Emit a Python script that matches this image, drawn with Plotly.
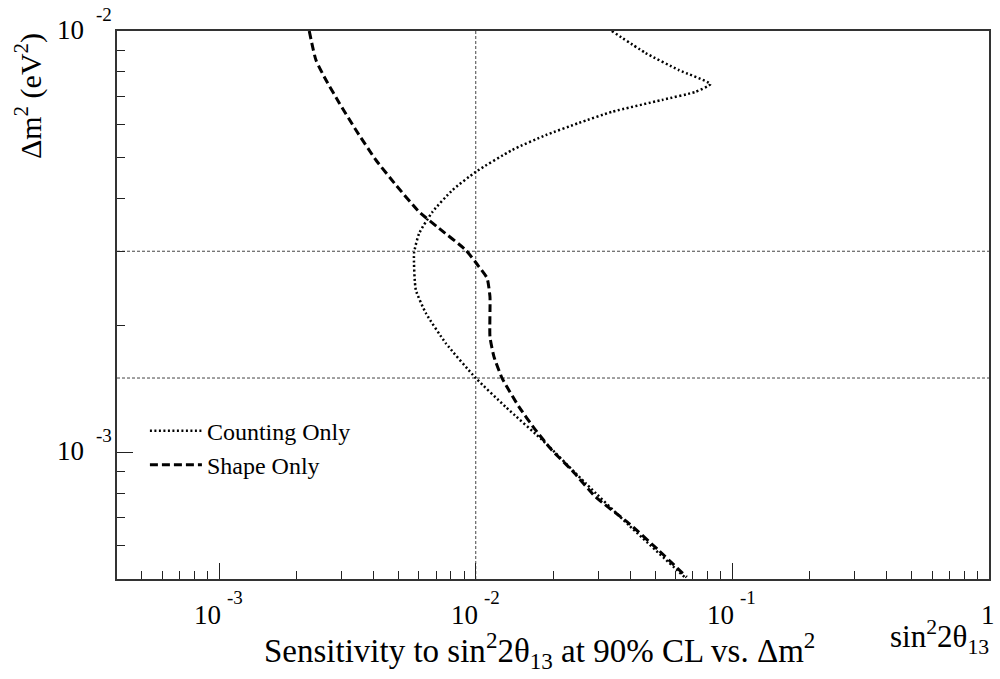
import math
import plotly.graph_objects as go

# ---- data ----
shape_x = [2.245e-3, 2.384e-3, 2.608e-3, 2.938e-3, 3.412e-3, 4.082e-3, 4.885e-3, 6.016e-3,
           7.197e-3, 9.14e-3, 1.030e-2, 1.107e-2, 1.136e-2, 1.136e-2, 1.178e-2, 1.266e-2,
           1.474e-2, 1.712e-2, 1.981e-2, 2.369e-2, 2.930e-2, 3.948e-2, 5.16e-2, 6.64e-2]
shape_y = [1.0e-2, 8.53e-3, 7.65e-3, 6.75e-3, 5.82e-3, 4.94e-3, 4.31e-3, 3.72e-3,
           3.40e-3, 3.02e-3, 2.755e-3, 2.59e-3, 2.34e-3, 1.88e-3, 1.684e-3, 1.50e-3,
           1.281e-3, 1.128e-3, 1.011e-3, 9.06e-4, 7.83e-4, 6.78e-4, 5.85e-4, 5.05e-4]

count_x = [3.39e-2, 4.586e-2, 6.18e-2, 8.21e-2, 7.18e-2, 5.32e-2, 3.40e-2, 2.523e-2,
           1.873e-2, 1.388e-2, 1.0e-2, 8.11e-3, 6.78e-3, 6.02e-3, 5.75e-3, 5.84e-3,
           6.39e-3, 7.64e-3, 1.0e-2, 1.308e-2, 1.873e-2, 2.68e-2, 3.948e-2, 6.52e-2]
count_y = [1.0e-2, 8.87e-3, 8.08e-3, 7.48e-3, 7.17e-3, 6.86e-3, 6.43e-3, 6.05e-3,
           5.66e-3, 5.22e-3, 4.63e-3, 4.19e-3, 3.72e-3, 3.31e-3, 2.97e-3, 2.43e-3,
           2.14e-3, 1.815e-3, 1.50e-3, 1.281e-3, 1.050e-3, 8.44e-4, 6.71e-4, 5.05e-4]

ref_x = [1e-2]
ref_y = [3e-3, 1.5e-3]

x_range = [4e-4, 1.0]
y_range = [5e-4, 1e-2]

x_major = [1e-3, 1e-2, 1e-1, 1.0]
x_exp = ["-3", "-2", "-1", None]
y_major = [1e-3, 1e-2]
y_exp = ["-3", "-2"]
mantissas = [2, 3, 4, 5, 6, 7, 8, 9]

FONT = "Liberation Serif"
TICK_FS = 27
EXP_FS = 19

def minor_ticks(lo, hi):
    vals = []
    for d in range(-5, 1):
        for m in mantissas:
            v = m * 10.0 ** d
            if lo * 0.999 <= v <= hi * 1.001:
                vals.append(v)
    return vals

x_minor = minor_ticks(*x_range)
y_minor = minor_ticks(*y_range)

fig = go.Figure()

# reference lines
for xv in ref_x:
    fig.add_trace(go.Scatter(x=[xv, xv], y=y_range, mode="lines", showlegend=False,
                             line=dict(color="#444", width=1, dash="3px,2px"), hoverinfo="skip"))
for yv in ref_y:
    fig.add_trace(go.Scatter(x=x_range, y=[yv, yv], mode="lines", showlegend=False,
                             line=dict(color="#444", width=1, dash="3px,2px"), hoverinfo="skip"))

fig.add_trace(go.Scatter(x=count_x, y=count_y, mode="lines", name="Counting Only",
                         line=dict(color="black", width=2.5, dash="2px,2.5px", shape="spline", smoothing=0.5)))
fig.add_trace(go.Scatter(x=shape_x, y=shape_y, mode="lines", name="Shape Only",
                         line=dict(color="black", width=3, dash="8px,4px", shape="spline", smoothing=0.5)))

# invisible trace carrying the minor-tick axes
fig.add_trace(go.Scatter(x=[x_range[0]], y=[y_range[0]], xaxis="x2", yaxis="y2", mode="markers",
                         marker=dict(opacity=0), showlegend=False, hoverinfo="skip"))

lx = [math.log10(v) for v in x_range]
ly = [math.log10(v) for v in y_range]

fig.update_layout(
    xaxis=dict(type="log", range=lx, showgrid=False, zeroline=False, showline=True, mirror=True,
               linecolor="#333", linewidth=1.5, ticks="inside", tickcolor="#222", tickwidth=1,
               ticklen=16, tickvals=x_major, showticklabels=False),
    yaxis=dict(type="log", range=ly, showgrid=False, zeroline=False, showline=True, mirror=True,
               linecolor="#333", linewidth=1.5, ticks="inside", tickcolor="#222", tickwidth=1,
               ticklen=16, tickvals=y_major, showticklabels=False),
    xaxis2=dict(type="log", range=lx, overlaying="x", anchor="y", side="bottom", showgrid=False,
                zeroline=False, showline=False, ticks="inside", tickcolor="#222", tickwidth=1,
                ticklen=8, tickvals=x_minor, showticklabels=False),
    yaxis2=dict(type="log", range=ly, overlaying="y", anchor="x", side="left", showgrid=False,
                zeroline=False, showline=False, ticks="inside", tickcolor="#222", tickwidth=1,
                ticklen=8, tickvals=y_minor, showticklabels=False),
)

# tick labels in ROOT style
for v, e in zip(x_major, x_exp):
    if e is None:
        fig.add_annotation(text=str(int(v)), xref="x", yref="paper", x=math.log10(v), y=0,
                           xanchor="center", yanchor="top", xshift=-1, yshift=-19, showarrow=False,
                           font=dict(family=FONT, size=TICK_FS, color="black"))
        continue
    fig.add_annotation(text="10", xref="x", yref="paper", x=math.log10(v), y=0,
                       xanchor="right", yanchor="top", xshift=4, yshift=-19, showarrow=False,
                       font=dict(family=FONT, size=TICK_FS, color="black"))
    fig.add_annotation(text=e, xref="x", yref="paper", x=math.log10(v), y=0,
                       xanchor="left", yanchor="top", xshift=6, yshift=-6, showarrow=False,
                       font=dict(family=FONT, size=EXP_FS, color="black"))
for v, e in zip(y_major, y_exp):
    fig.add_annotation(text="10", xref="paper", yref="y", x=0, y=math.log10(v),
                       xanchor="right", yanchor="middle", xshift=-31, yshift=1, showarrow=False,
                       font=dict(family=FONT, size=TICK_FS, color="black"))
    fig.add_annotation(text=e, xref="paper", yref="y", x=0, y=math.log10(v),
                       xanchor="right", yanchor="middle", xshift=-3, yshift=17, showarrow=False,
                       font=dict(family=FONT, size=EXP_FS, color="black"))

fig.add_annotation(text="Sensitivity to sin<sup>2</sup>2θ<sub>13</sub> at 90% CL vs. Δm<sup>2</sup>",
                   xref="paper", yref="paper", x=0.484, y=0, xanchor="center", yanchor="bottom",
                   yshift=-97, showarrow=False, font=dict(family=FONT, size=33, color="black"))
fig.add_annotation(text="sin<sup>2</sup>2θ<sub>13</sub>",
                   xref="paper", yref="paper", x=1.0, y=0, xanchor="right", yanchor="bottom",
                   xshift=2, yshift=-82, showarrow=False, font=dict(family=FONT, size=31, color="black"))
fig.add_annotation(text="Δm<sup>2</sup> (eV<sup>2</sup>)", textangle=-90,
                   xref="paper", yref="paper", x=-0.102, y=1.0, xanchor="center", yanchor="top",
                   showarrow=False, font=dict(family=FONT, size=30, color="black"))

fig.update_layout(
    width=1000, height=679,
    margin=dict(l=117, r=9, t=31, b=100),
    paper_bgcolor="white", plot_bgcolor="white",
    font=dict(family=FONT, color="black"),
    legend=dict(x=0.032, y=0.311, xanchor="left", yanchor="top", itemwidth=52,
                bgcolor="rgba(0,0,0,0)", borderwidth=0,
                font=dict(family=FONT, size=24, color="black")),
)

fig.write_html("out.html")
